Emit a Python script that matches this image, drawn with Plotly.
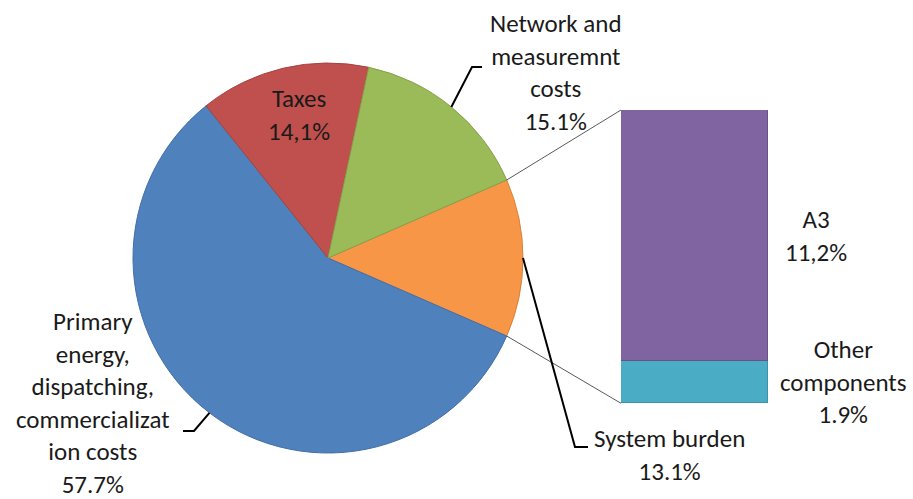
import math
import plotly.graph_objects as go

# Pie: composition of the electricity price (%)
pie_labels = ["System burden", "Primary energy, dispatching, commercialization costs",
              "Taxes", "Network and measuremnt costs"]
pie_values = [13.1, 57.7, 14.1, 15.1]
pie_colors = ["#F79646", "#4F81BD", "#C0504D", "#9BBB59"]
pie_edges = ["#D9803A", "#416FA6", "#A5423F", "#859F4C"]

# Bar: breakdown of the system burden (%)
bar_labels = ["Other components", "A3"]
bar_values = [1.9, 11.2]
bar_colors = ["#4BACC6", "#8064A2"]
bar_edges = ["#3B93AB", "#6A5289"]

# Label texts as printed
pie_texts = ["System burden<br>13.1%",
             "Primary<br>energy,<br>dispatching,<br>commercializat<br>ion costs<br>57.7%",
             "Taxes<br>14,1%",
             "Network and<br>measuremnt<br>costs<br>15.1%"]
bar_texts = ["Other<br>components<br>1.9%", "A3<br>11,2%"]

W, H = 913, 499
FONT = dict(family="Carlito, Calibri, Lato, sans-serif", size=25, color="#1A1A1A")


def px(x, y):
    """pixel position -> paper coordinates"""
    return x / W, 1 - y / H


# pie geometry in pixels
CX, CY, R = 328, 258, 195
total = sum(pie_values)
half = pie_values[0] / total * 360 / 2
rotation = 90 - half  # first slice centred on 3 o'clock

pdx = [(CX - R) / W, (CX + R) / W]
pdy = [(H - CY - R) / H, (H - CY + R) / H]

# bar geometry in pixels
BX0, BX1, BY0, BY1 = 621, 768, 110, 403.3

fig = go.Figure()
fig.add_trace(go.Pie(
    labels=pie_labels, values=pie_values, sort=False, direction="clockwise",
    rotation=rotation, textinfo="none", hoverinfo="label+percent",
    marker=dict(colors=pie_colors, line=dict(color=pie_edges, width=1)),
    domain=dict(x=pdx, y=pdy), showlegend=False,
))
for lab, val, col, edge in zip(bar_labels, bar_values, bar_colors, bar_edges):
    fig.add_trace(go.Bar(
        x=[0], y=[val], name=lab, width=1, marker=dict(color=col, line=dict(color=edge, width=1)),
        showlegend=False, hoverinfo="name+y",
    ))


def edge_point(angle_deg):
    """point on the pie rim, angle clockwise from 12 o'clock"""
    a = math.radians(angle_deg)
    return CX + R * math.sin(a), CY - R * math.cos(a)


# slice mid angles
mids = []
start = rotation
for v in pie_values:
    span = v / total * 360
    mids.append(start + span / 2)
    start += span

shapes = []
# connector lines pie -> bar
top_pt = edge_point(rotation)
bot_pt = edge_point(rotation + 2 * half)
for (x0, y0), (x1, y1) in [(top_pt, (BX0, BY0)), (bot_pt, (BX0, BY1))]:
    a0, b0 = px(x0, y0)
    a1, b1 = px(x1, y1)
    shapes.append(dict(type="line", xref="paper", yref="paper", x0=a0, y0=b0, x1=a1, y1=b1,
                       line=dict(color="#595959", width=1)))

# leader lines: slice index -> elbow, end
leaders = {
    0: [(575, 447), (588, 447)],
    1: [(194, 431), (183, 431)],
    3: [(472, 67), (482, 67)],
}
for idx, pts in leaders.items():
    path_pts = [edge_point(mids[idx])] + pts
    d = ""
    for k, (x, y) in enumerate(path_pts):
        a, b = px(x, y)
        d += ("M" if k == 0 else " L") + f" {a} {b}"
    shapes.append(dict(type="path", xref="paper", yref="paper", path=d,
                       line=dict(color="#000000", width=2)))

# label centres in pixels
pie_label_pos = [(669, 455), (93, 403), (298.5, 115), (556, 72)]
bar_label_pos = [(843, 382), (816, 236)]
annotations = []
for txt, (x, y) in zip(pie_texts + bar_texts, pie_label_pos + bar_label_pos):
    a, b = px(x, y)
    annotations.append(dict(text=txt, x=a, y=b, xref="paper", yref="paper",
                            xanchor="center", yanchor="middle", showarrow=False,
                            align="center", font=FONT))

fig.update_layout(
    width=W, height=H, margin=dict(l=0, r=0, t=0, b=0),
    paper_bgcolor="white", plot_bgcolor="rgba(0,0,0,0)",
    barmode="stack", bargap=0,
    xaxis=dict(domain=[BX0 / W, BX1 / W], range=[-0.5, 0.5], visible=False, fixedrange=True),
    yaxis=dict(domain=[(H - BY1) / H, (H - BY0) / H], range=[0, sum(bar_values)],
               visible=False, fixedrange=True),
    shapes=shapes, annotations=annotations,
)

fig.write_html("out.html")
